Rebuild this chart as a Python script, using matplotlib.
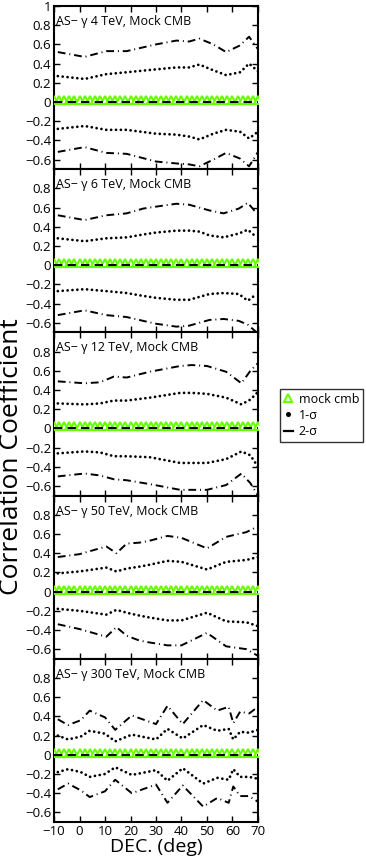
import matplotlib
matplotlib.use("Agg")
import matplotlib.pyplot as plt
from matplotlib.lines import Line2D

plt.rcParams['font.family'] = ['Open Sans', 'DejaVu Sans']

# ---------------- data ----------------
titles = ["AS\u2212 \u03b3 4 TeV, Mock CMB", "AS\u2212 \u03b3 6 TeV, Mock CMB",
          "AS\u2212 \u03b3 12 TeV, Mock CMB", "AS\u2212 \u03b3 50 TeV, Mock CMB",
          "AS\u2212 \u03b3 300 TeV, Mock CMB"]

# Mock CMB correlation (triangles) on 2-degree DEC grid
dec_cmb = [-10, -8, -6, -4, -2, 0, 2, 4, 6, 8, 10, 12, 14, 16, 18, 20, 22, 24, 26, 28,
           30, 32, 34, 36, 38, 40, 42, 44, 46, 48, 50, 52, 54, 56, 58, 60, 62, 64, 66, 68, 70]
mock_cmb = [0.02, 0.02, 0.02, 0.02, 0.02, 0.02, 0.02, 0.02, 0.02, 0.02, 0.02, 0.02, 0.02, 0.02,
            0.02, 0.02, 0.02, 0.02, 0.02, 0.02, 0.02, 0.02, 0.02, 0.02, 0.02, 0.02, 0.02, 0.02,
            0.02, 0.02, 0.02, 0.02, 0.02, 0.02, 0.02, 0.02, 0.02, 0.02, 0.02, 0.02, 0.02]

# Panel 1: 4 TeV
dec1 = [-8.5, 2, 10.5, 18.5, 30, 38, 43, 47, 52.5, 57.5, 63, 66.5, 70]
up1_1 = [0.27, 0.24, 0.29, 0.31, 0.34, 0.36, 0.36, 0.39, 0.33, 0.28, 0.31, 0.40, 0.32]
up2_1 = [0.52, 0.47, 0.53, 0.53, 0.60, 0.64, 0.63, 0.66, 0.60, 0.52, 0.59, 0.68, 0.55]
lo1_1 = [-0.28, -0.25, -0.29, -0.29, -0.33, -0.34, -0.36, -0.39, -0.33, -0.29, -0.31, -0.38, -0.31]
lo2_1 = [-0.52, -0.47, -0.53, -0.54, -0.62, -0.64, -0.65, -0.67, -0.60, -0.53, -0.59, -0.67, -0.52]

# Panel 2: 6 TeV
dec2 = [-8.5, 2, 10.5, 18.5, 25, 30, 38, 43, 47, 51, 56.5, 62.5, 66, 69.5]
up1_2 = [0.28, 0.25, 0.28, 0.29, 0.32, 0.34, 0.36, 0.36, 0.35, 0.31, 0.29, 0.33, 0.37, 0.29]
up2_2 = [0.52, 0.47, 0.52, 0.54, 0.59, 0.61, 0.64, 0.63, 0.60, 0.57, 0.54, 0.59, 0.65, 0.54]
lo1_2 = [-0.27, -0.25, -0.27, -0.29, -0.32, -0.34, -0.36, -0.36, -0.33, -0.30, -0.29, -0.30, -0.37, -0.30]
lo2_2 = [-0.52, -0.47, -0.52, -0.54, -0.58, -0.61, -0.64, -0.63, -0.60, -0.57, -0.56, -0.58, -0.62, -0.70]

# Panel 3: 12 TeV
dec3 = [-8.5, 2, 8, 13.5, 18.5, 27.5, 39.5, 44, 50, 57.5, 63.5, 67, 70]
up1_3 = [0.26, 0.25, 0.26, 0.29, 0.29, 0.32, 0.37, 0.37, 0.36, 0.32, 0.25, 0.30, 0.38]
up2_3 = [0.49, 0.47, 0.48, 0.54, 0.53, 0.59, 0.65, 0.66, 0.65, 0.59, 0.47, 0.60, 0.68]
lo1_3 = [-0.26, -0.24, -0.25, -0.29, -0.29, -0.30, -0.36, -0.36, -0.36, -0.32, -0.24, -0.28, -0.40]
lo2_3 = [-0.50, -0.47, -0.49, -0.53, -0.54, -0.58, -0.64, -0.64, -0.64, -0.59, -0.47, -0.57, -0.70]

# Panel 4: 50 TeV
dec4 = [-8.5, 0, 10.5, 14.5, 18.5, 23.5, 27.5, 34.5, 40, 50, 57.5, 65.5, 70]
up1_4 = [0.19, 0.21, 0.25, 0.21, 0.24, 0.26, 0.28, 0.32, 0.31, 0.23, 0.31, 0.33, 0.36]
up2_4 = [0.36, 0.39, 0.47, 0.40, 0.50, 0.51, 0.53, 0.58, 0.56, 0.45, 0.57, 0.62, 0.68]
lo1_4 = [-0.18, -0.20, -0.24, -0.19, -0.22, -0.25, -0.27, -0.30, -0.30, -0.22, -0.31, -0.32, -0.36]
lo2_4 = [-0.34, -0.39, -0.47, -0.37, -0.46, -0.51, -0.53, -0.56, -0.56, -0.43, -0.57, -0.60, -0.67]

# Panel 5: 300 TeV
dec5 = [-8.5, -4.5, 0.5, 4, 10, 14, 20.5, 30, 34.5, 40.5, 48.5, 54, 58.5, 60.3, 63, 66.5, 70]
up1_5 = [0.20, 0.16, 0.19, 0.25, 0.22, 0.14, 0.21, 0.16, 0.27, 0.17, 0.31, 0.25, 0.27, 0.16, 0.24, 0.23, 0.26]
up2_5 = [0.37, 0.31, 0.36, 0.46, 0.39, 0.26, 0.41, 0.32, 0.51, 0.32, 0.57, 0.46, 0.50, 0.33, 0.45, 0.43, 0.50]
lo1_5 = [-0.18, -0.15, -0.18, -0.23, -0.20, -0.13, -0.21, -0.16, -0.27, -0.14, -0.30, -0.24, -0.26, -0.15, -0.23, -0.23, -0.25]
lo2_5 = [-0.36, -0.30, -0.37, -0.44, -0.38, -0.26, -0.40, -0.31, -0.50, -0.32, -0.54, -0.45, -0.50, -0.33, -0.43, -0.43, -0.49]

panels = [
    (dec1, up1_1, lo1_1, up2_1, lo2_1),
    (dec2, up1_2, lo1_2, up2_2, lo2_2),
    (dec3, up1_3, lo1_3, up2_3, lo2_3),
    (dec4, up1_4, lo1_4, up2_4, lo2_4),
    (dec5, up1_5, lo1_5, up2_5, lo2_5),
]

xticks = [-10, 0, 10, 20, 30, 40, 50, 60, 70]
xtick_labels = ["\u221210", "0", "10", "20", "30", "40", "50", "60", "70"]
yticks_top = [-0.6, -0.4, -0.2, 0, 0.2, 0.4, 0.6, 0.8, 1.0]
ytick_labels_top = ["\u22120.6", "\u22120.4", "\u22120.2", "0", "0.2", "0.4", "0.6", "0.8", "1"]
yticks = [-0.6, -0.4, -0.2, 0, 0.2, 0.4, 0.6, 0.8]
ytick_labels = ["\u22120.6", "\u22120.4", "\u22120.2", "0", "0.2", "0.4", "0.6", "0.8"]

# ---------------- figure ----------------
W, H = 366, 859
fig = plt.figure(figsize=(W / 100, H / 100), dpi=100)

lime = '#66ff00'
dot_ls = (0, (0.01, 1.75))
dashdot_ls = (0, (4, 2, 0.5, 2))

ax_left = 54 / W
ax_w = 204 / W
ph = 163.2
top_px = 6

axes = []
for k, (dec, u1, l1, u2, l2) in enumerate(panels):
    bottom = 1 - (top_px + ph * (k + 1)) / H
    ax = fig.add_axes([ax_left, bottom, ax_w, ph / H])
    axes.append(ax)

    ax.axhline(0, color=lime, lw=2.8, zorder=2)
    ax.plot(dec_cmb, mock_cmb, linestyle='none', marker='^', markersize=6.2,
            markerfacecolor='white', markeredgecolor=lime, markeredgewidth=1.5, zorder=3)
    ax.axhline(0, color='k', lw=1.5, linestyle=(0, (4, 2.5)), zorder=4)

    for arr in (u1, l1):
        ax.plot(dec, arr, color='k', lw=2.0, linestyle=dot_ls, dash_capstyle='round', zorder=5)
    for arr in (u2, l2):
        ax.plot(dec, arr, color='k', lw=1.4, linestyle=dashdot_ls, zorder=5)

    ax.set_xlim(-10, 70)
    ax.set_ylim(-0.7, 1.0)
    ax.set_xticks(xticks)
    if k == 0:
        ax.set_yticks(yticks_top)
        ax.set_yticklabels(ytick_labels_top)
    else:
        ax.set_yticks(yticks)
        ax.set_yticklabels(ytick_labels)
    if k == 4:
        ax.set_xticklabels(xtick_labels)
    else:
        ax.set_xticklabels([])
    ax.tick_params(direction='in', top=True, right=True, length=4, width=1,
                   labelsize=9.5, pad=2)
    for s in ax.spines.values():
        s.set_linewidth(1.5)
    ax.text(0.012, 0.905, titles[k], transform=ax.transAxes, fontsize=9,
            ha='left', va='center')

axes[-1].set_xlabel("DEC. (deg)", fontsize=14, labelpad=0)
fig.text(0.032, 0.468, "Correlation Coefficient", rotation=90, fontsize=19,
         ha='center', va='center')

handles = [
    Line2D([], [], linestyle='none', marker='^', markersize=6, markerfacecolor='white',
           markeredgecolor=lime, markeredgewidth=1.5),
    Line2D([], [], linestyle='none', marker='o', markersize=2.6, color='k'),
    Line2D([], [], color='k', lw=1.6, linestyle='-'),
]
leg = fig.legend(handles, ["mock cmb", "1-\u03c3", "2-\u03c3"],
                 loc='upper left', bbox_to_anchor=(280 / W, 1 - 389 / H),
                 fontsize=9, frameon=True, fancybox=False, handlelength=0.7,
                 handletextpad=0.5, borderpad=0.3, labelspacing=0.25, borderaxespad=0)
leg.get_frame().set_edgecolor('k')
leg.get_frame().set_linewidth(1.0)

fig.savefig("out.png", dpi=100)
